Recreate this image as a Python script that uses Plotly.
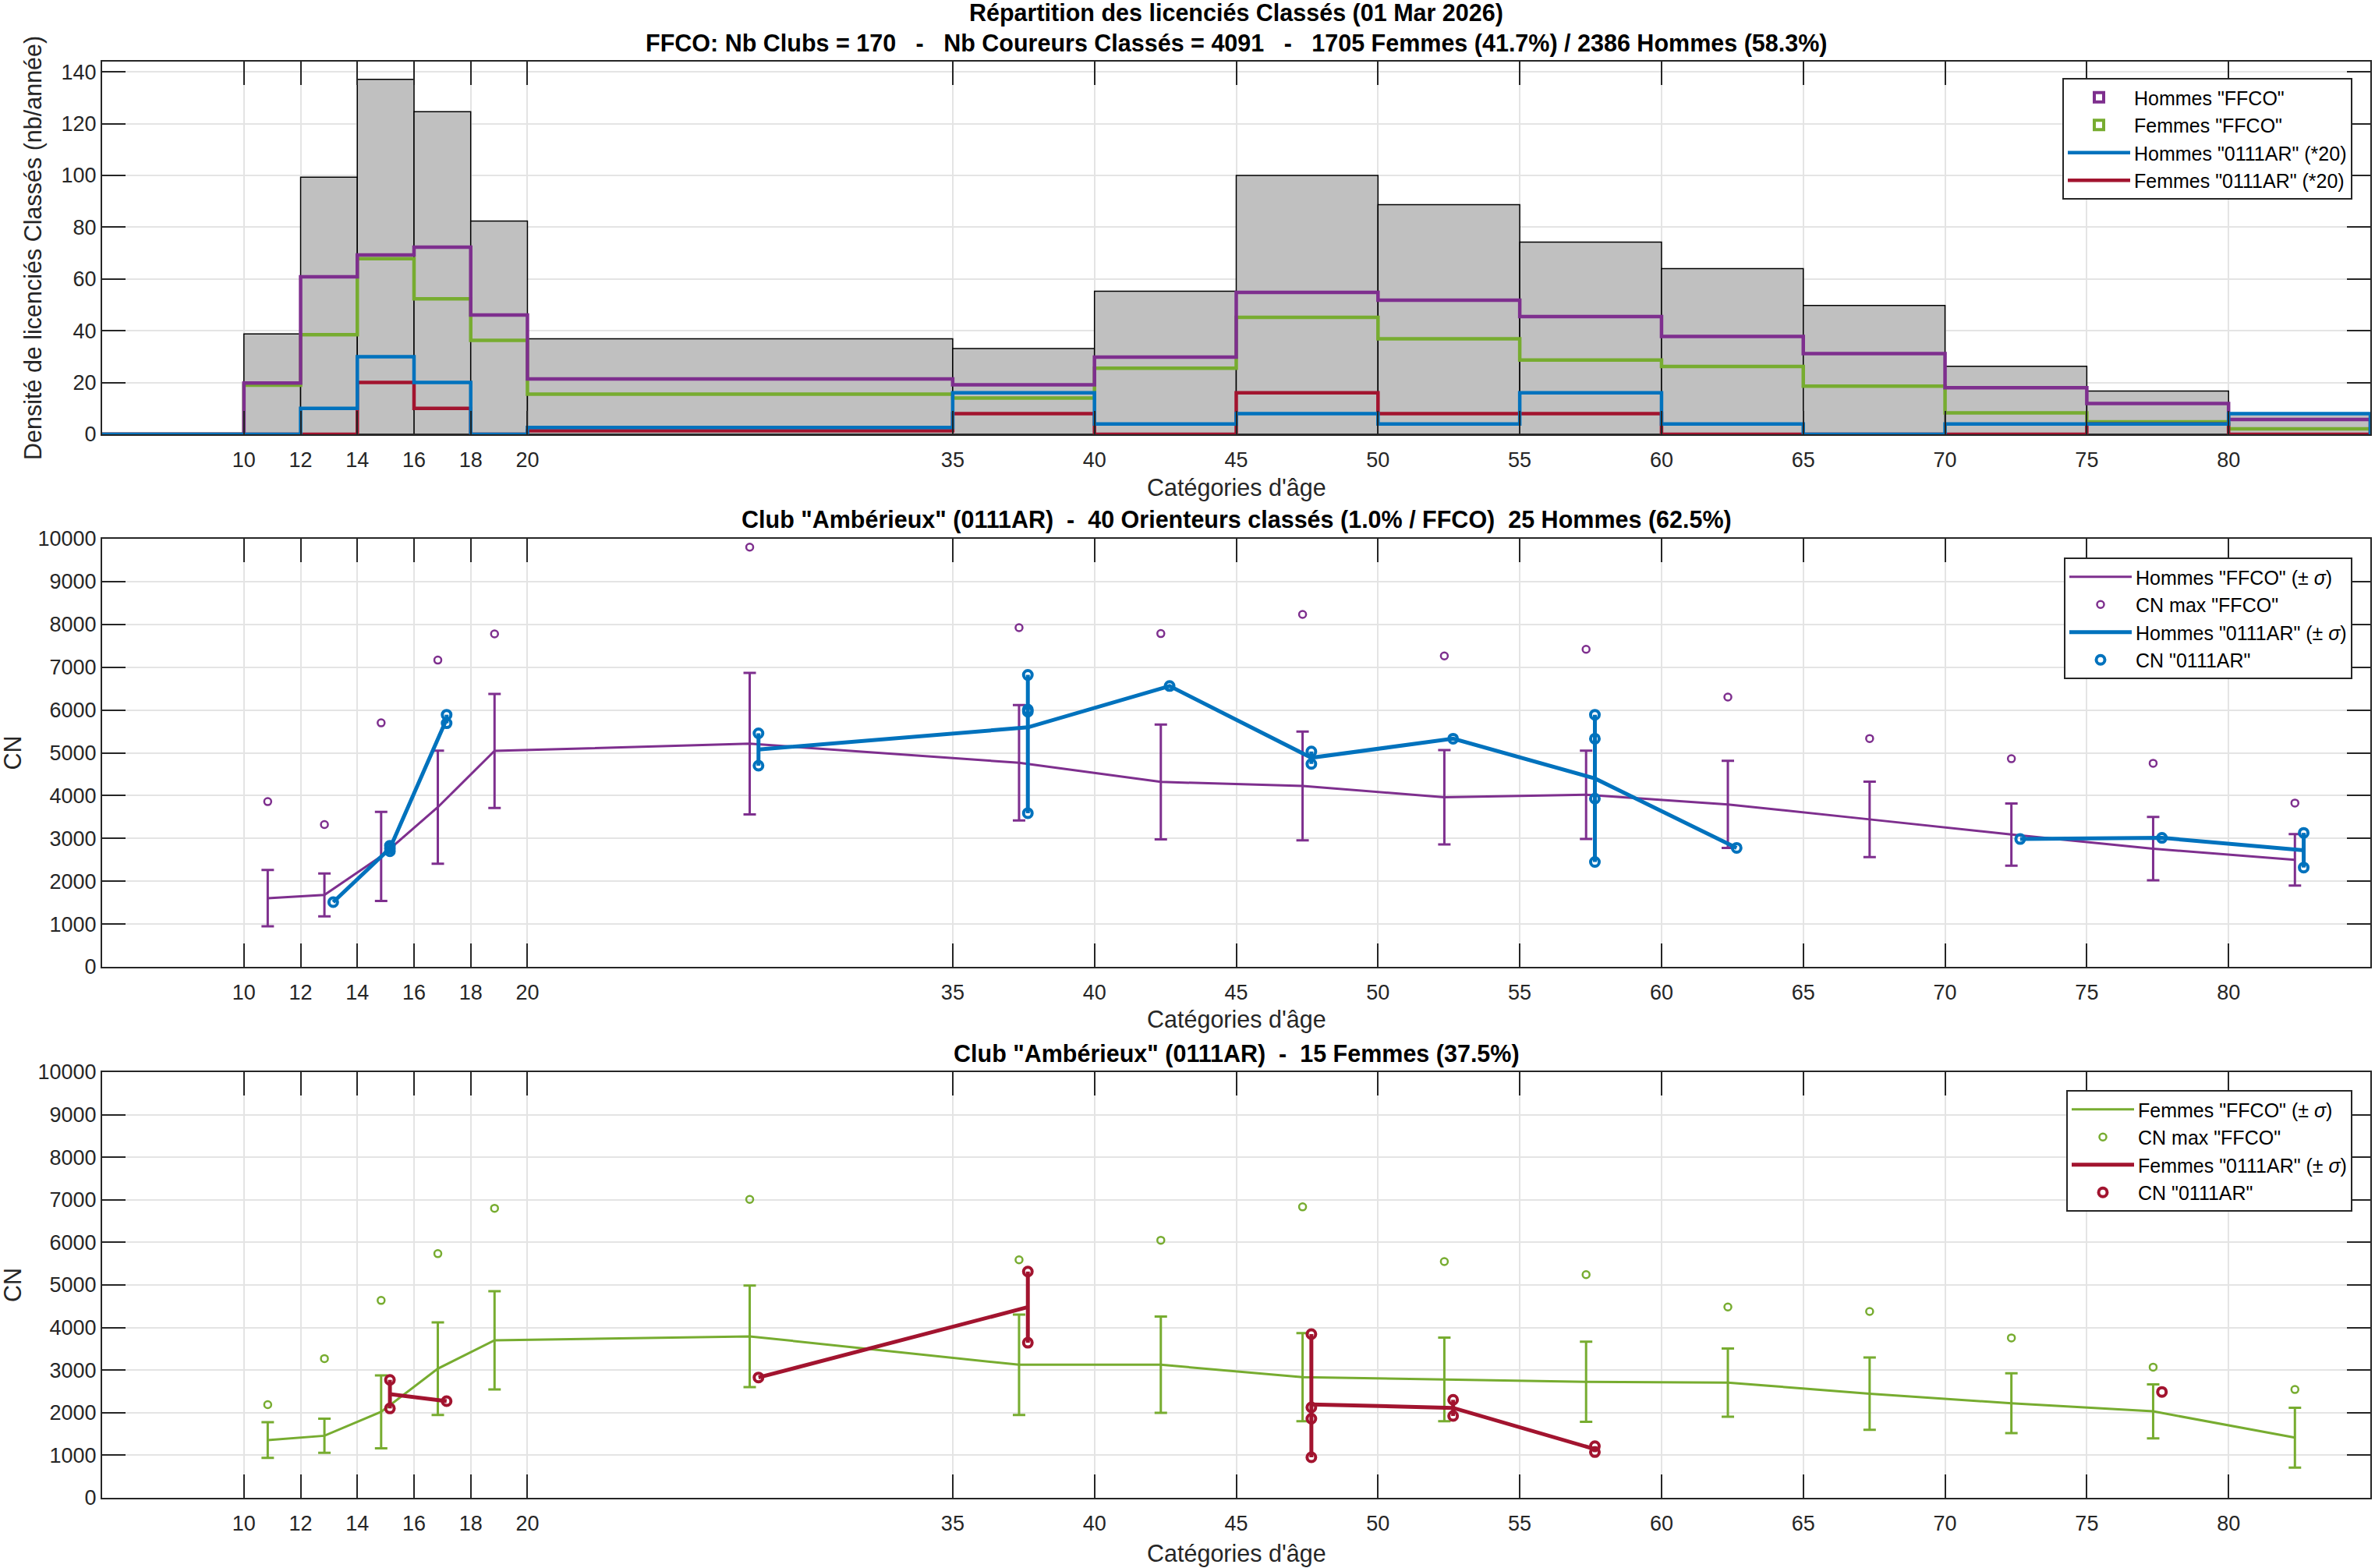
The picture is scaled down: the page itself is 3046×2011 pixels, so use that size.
import plotly.graph_objects as go

# ------------------------------------------------------------------ data
bin_edges = [5, 10, 12, 14, 16, 18, 20, 35, 40, 45, 50, 55, 60, 65, 70, 75, 80, 85]
hommes_ffco_density = [0, 19.8, 60.8, 69.3, 72.3, 46.1, 21.4, 19.1, 29.8, 54.8, 51.8, 45.5, 37.8, 31.2, 18.0, 11.9, 5.7]
femmes_ffco_density = [0, 19.0, 38.5, 67.8, 52.3, 36.3, 15.5, 14.0, 25.5, 45.2, 36.9, 28.7, 26.2, 18.6, 8.3, 4.8, 2.1]
hommes_club_density_x20 = [0, 0, 10, 30, 20, 0, 2.67, 16, 4, 8, 4, 16, 4, 0, 4, 4, 8]
femmes_club_density_x20 = [0, 0, 0, 20, 10, 0, 1.33, 8, 0, 16, 8, 8, 0, 0, 0, 4, 0]

x_tick_values = [10, 12, 14, 16, 18, 20, 35, 40, 45, 50, 55, 60, 65, 70, 75, 80]
y_ticks_top = [0, 20, 40, 60, 80, 100, 120, 140]
y_ticks_cn = [0, 1000, 2000, 3000, 4000, 5000, 6000, 7000, 8000, 9000, 10000]

cat_centers = [11, 13, 15, 17, 19, 28, 37.5, 42.5, 47.5, 52.5, 57.5, 62.5, 67.5, 72.5, 77.5, 82.5]

hommes_ffco_mean = [1605, 1680, 2580, 3730, 5045, 5212, 4768, 4320, 4227, 3962, 4019, 3795, 3445, 3090, 2761, 2500]
hommes_ffco_sigma = [660, 502, 1042, 1320, 1332, 1653, 1348, 1340, 1270, 1104, 1030, 1018, 880, 728, 741, 603]
hommes_ffco_max = [3860, 3325, 5700, 7166, 7777, 9805, 7923, 7785, 8233, 7264, 7419, 6303, 5334, 4862, 4756, 3827]
hommes_club_cn = [[], [1512], [2830, 2770, 2700], [5890, 5690], [], [5456, 4699],
                  [6820, 6010, 5960, 3590], [6560], [5030, 4740], [5330],
                  [5890, 5330, 3930, 2450], [2780], [], [2985], [3013], [3130, 2320]]

femmes_ffco_mean = [1357, 1458, 2020, 3033, 3700, 3793, 3126, 3126, 2835, 2783, 2726, 2706, 2447, 2222, 2031, 1414]
femmes_ffco_sigma = [420, 400, 857, 1086, 1155, 1192, 1179, 1131, 1034, 982, 941, 800, 848, 703, 634, 703]
femmes_ffco_max = [2189, 3271, 4637, 5735, 6801, 7011, 5590, 6050, 6834, 5549, 5242, 4483, 4378, 3756, 3069, 2544]
femmes_club_cn = [[], [], [2771, 2100], [2270], [], [2827], [5315, 3643], [],
                  [3845, 2124, 1858, 953], [2302, 1922], [1212, 1074], [], [], [], [2488], []]

title_top_1 = "Répartition des licenciés Classés (01 Mar 2026)"
title_top_2 = "FFCO: Nb Clubs = 170   -   Nb Coureurs Classés = 4091   -   1705 Femmes (41.7%) / 2386 Hommes (58.3%)"
title_mid = 'Club "Ambérieux" (0111AR)  -  40 Orienteurs classés (1.0% / FFCO)  25 Hommes (62.5%)'
title_bot = 'Club "Ambérieux" (0111AR)  -  15 Femmes (37.5%)'
xlabel = "Catégories d'âge"
ylabel_top = "Densité de licenciés Classés (nb/année)"
ylabel_cn = "CN"

# ------------------------------------------------------------------ style
W, H = 3046, 2011
ML, MR = 131, 6
FONT = "Liberation Sans, Arial, Helvetica, sans-serif"
INK = "#262626"
PURPLE = "#7E2F8E"
GREEN = "#77AC30"
BLUE = "#0072BD"
RED = "#A2142F"
GREY = "#C0C0C0"
SIG = " (± <i>σ</i>)"

fig = go.Figure()

# ------------------------------------------------------------------ top: histogram
centers = [(a + b) / 2 for a, b in zip(bin_edges[:-1], bin_edges[1:])]
widths = [b - a for a, b in zip(bin_edges[:-1], bin_edges[1:])]
total = [h + f for h, f in zip(hommes_ffco_density, femmes_ffco_density)]
keep = [i for i, t in enumerate(total) if t > 0]
fig.add_trace(go.Bar(
    x=[centers[i] for i in keep], y=[total[i] for i in keep], width=[widths[i] for i in keep],
    marker=dict(color=GREY, line=dict(color="black", width=1.5)),
    showlegend=False, xaxis="x", yaxis="y", hoverinfo="skip"))


def stairs(values):
    xs = [bin_edges[0]] + list(bin_edges[:-1]) + [bin_edges[-1], bin_edges[-1]]
    ys = [0] + list(values) + [values[-1], 0]
    return xs, ys


for vals, col in [(femmes_ffco_density, GREEN), (hommes_ffco_density, PURPLE),
                  (femmes_club_density_x20, RED), (hommes_club_density_x20, BLUE)]:
    sx, sy = stairs(vals)
    fig.add_trace(go.Scatter(x=sx, y=sy, mode="lines", line=dict(color=col, width=4.5, shape="hv"),
                             showlegend=False, xaxis="x", yaxis="y", hoverinfo="skip"))

for name, col, rank in [('Hommes "0111AR" (*20)', BLUE, 3), ('Femmes "0111AR" (*20)', RED, 4)]:
    fig.add_trace(go.Scatter(x=[None], y=[None], mode="lines", name=name, legend="legend",
                             legendrank=rank, line=dict(color=col, width=4.5), xaxis="x", yaxis="y"))

# legend-only outline boxes for the FFCO stairs (placed outside the visible x range)
for name, col, rank in [('Hommes "FFCO"', PURPLE, 1), ('Femmes "FFCO"', GREEN, 2)]:
    fig.add_shape(type="rect", xref="x", yref="y", x0=-3, x1=-2, y0=0, y1=1,
                  line=dict(color=col, width=4), fillcolor="rgba(255,255,255,0)",
                  showlegend=True, name=name, legend="legend", legendrank=rank)


# ------------------------------------------------------------------ CN panels
def cn_panel(xa, ya, leg, mean, sigma, cmax, club, col_ffco, col_club, who):
    xf = [c - 0.16 for c in cat_centers]
    xc = [c + 0.15 for c in cat_centers]
    fig.add_trace(go.Scatter(
        x=xf, y=mean, mode="lines", name=f'{who} "FFCO"' + SIG, legend=leg, legendrank=1,
        line=dict(color=col_ffco, width=3),
        error_y=dict(type="data", array=sigma, visible=True, color=col_ffco, thickness=3, width=8),
        xaxis=xa, yaxis=ya))
    fig.add_trace(go.Scatter(
        x=xf, y=cmax, mode="markers", name='CN max "FFCO"', legend=leg, legendrank=2,
        marker=dict(symbol="circle-open", size=9, color=col_ffco, line=dict(width=2.5)),
        xaxis=xa, yaxis=ya))
    cm, up, dn = [], [], []
    for g in club:
        if g:
            m = sum(g) / len(g)
            cm.append(m)
            up.append(max(g) - m)
            dn.append(m - min(g))
        else:
            cm.append(None)
            up.append(0)
            dn.append(0)
    fig.add_trace(go.Scatter(
        x=xc, y=cm, mode="lines", name=f'{who} "0111AR"' + SIG, legend=leg, legendrank=3,
        line=dict(color=col_club, width=5),
        error_y=dict(type="data", symmetric=False, array=up, arrayminus=dn, visible=True,
                     color=col_club, thickness=5, width=0),
        xaxis=xa, yaxis=ya))
    px, py_ = [], []
    for c, g in zip(xc, club):
        for v in g:
            px.append(c)
            py_.append(v)
    fig.add_trace(go.Scatter(
        x=px, y=py_, mode="markers", name='CN "0111AR"', legend=leg, legendrank=4,
        marker=dict(symbol="circle-open", size=11, color=col_club, line=dict(width=4)),
        xaxis=xa, yaxis=ya))


cn_panel("x2", "y2", "legend2", hommes_ffco_mean, hommes_ffco_sigma, hommes_ffco_max,
         hommes_club_cn, PURPLE, BLUE, "Hommes")
cn_panel("x3", "y3", "legend3", femmes_ffco_mean, femmes_ffco_sigma, femmes_ffco_max,
         femmes_club_cn, GREEN, RED, "Femmes")


# ------------------------------------------------------------------ axes
def py(pix):
    return 1 - pix / H


def px_(pix):
    return (pix - ML) / (W - ML - MR)


common_axis = dict(showline=True, linecolor=INK, linewidth=2, mirror="allticks",
                   ticks="inside", ticklen=30, tickwidth=2, tickcolor=INK,
                   showgrid=True, gridcolor="#E4E4E4", gridwidth=2, zeroline=False,
                   automargin=False, tickfont=dict(family=FONT, size=27, color=INK))

xaxis_common = dict(common_axis, range=[5, 85], tickmode="array", tickvals=x_tick_values,
                    ticktext=[str(v) for v in x_tick_values], ticklabelstandoff=8)

domains = {"": (557, 79), "2": (1240, 691), "3": (1921, 1375)}
layout = dict(width=W, height=H, margin=dict(l=ML, r=MR, t=0, b=0, pad=0, autoexpand=False),
              paper_bgcolor="white", plot_bgcolor="white", barmode="overlay",
              font=dict(family=FONT, color=INK))
for k, (bot, top) in domains.items():
    layout["xaxis" + k] = dict(xaxis_common, domain=[0, 1], anchor="y" + k)
    yk = dict(common_axis, domain=[py(bot), py(top)], anchor="x" + k, tickmode="array")
    if k == "":
        yk.update(range=[0, max(total) * 1.05], tickvals=y_ticks_top,
                  ticktext=[str(v) for v in y_ticks_top])
    else:
        yk.update(range=[0, 10000], tickvals=y_ticks_cn, ticktext=[str(v) for v in y_ticks_cn])
    layout["yaxis" + k] = yk

leg_common = dict(font=dict(family=FONT, size=25, color="black"), bgcolor="white",
                  bordercolor=INK, borderwidth=2, xanchor="right", yanchor="top",
                  itemwidth=80, tracegroupgap=0, traceorder="normal")
layout["legend"] = dict(leg_common, x=px_(3017), y=py(100))
layout["legend2"] = dict(leg_common, x=px_(3017), y=py(715))
layout["legend3"] = dict(leg_common, x=px_(3017), y=py(1398))

fig.update_layout(**layout)

# ------------------------------------------------------------------ text
ann = []
xc_mid = 0.5
for txt, ypix in [(title_top_1, 17), (title_top_2, 55), (title_mid, 667), (title_bot, 1351)]:
    ann.append(dict(text=f"<b>{txt}</b>", x=xc_mid, y=py(ypix), xref="paper", yref="paper",
                    xanchor="center", yanchor="middle", showarrow=False,
                    font=dict(family=FONT, size=30.5, color="black")))
for ypix in [625, 1307, 1992]:
    ann.append(dict(text=xlabel, x=xc_mid, y=py(ypix), xref="paper", yref="paper",
                    xanchor="center", yanchor="middle", showarrow=False,
                    font=dict(family=FONT, size=30.5, color=INK)))
ann.append(dict(text=ylabel_top, x=px_(43), y=py(318), xref="paper", yref="paper", textangle=-90,
                xanchor="center", yanchor="middle", showarrow=False,
                font=dict(family=FONT, size=30.5, color=INK)))
for ypix in [(691 + 1240) / 2, (1375 + 1921) / 2]:
    ann.append(dict(text=ylabel_cn, x=px_(16), y=py(ypix), xref="paper", yref="paper", textangle=-90,
                    xanchor="center", yanchor="middle", showarrow=False,
                    font=dict(family=FONT, size=30.5, color=INK)))
fig.update_layout(annotations=ann)

fig.write_html("out.html", config={"displayModeBar": False},
               post_script="document.body.style.margin='0px';document.body.style.overflow='hidden';")
